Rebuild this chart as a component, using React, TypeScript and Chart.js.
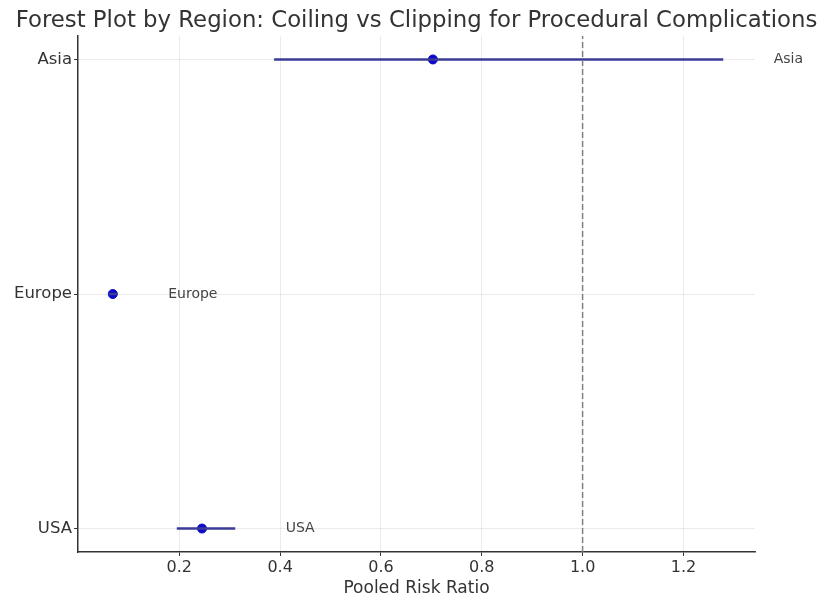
import React, { useEffect, useRef } from "react";
import { Chart, registerables } from "chart.js";

Chart.register(...registerables);

// Pooled risk ratios with 95% confidence intervals, by region
const regions = ["USA", "Europe", "Asia"];
const riskRatio = [0.245, 0.068, 0.703];
const ciLower = [0.195, 0.06, 0.388];
const ciUpper = [0.311, 0.078, 1.279];
const xTicks = [0.2, 0.4, 0.6, 0.8, 1.0, 1.2];
const referenceLine = 1.0;
const labelOffset = 0.1;

const TITLE = "Forest Plot by Region: Coiling vs Clipping for Procedural Complications";
const X_LABEL = "Pooled Risk Ratio";
const FONT = "'DejaVu Sans', sans-serif";

const overlayText = {
  id: "overlayText",
  afterDraw(chart: any) {
    const { ctx, chartArea, scales } = chart;
    const xs = scales.x;
    const ys = scales.y;
    ctx.save();
    // Region names next to each interval
    ctx.fillStyle = "#444";
    ctx.font = `14px ${FONT}`;
    ctx.textAlign = "left";
    ctx.textBaseline = "middle";
    regions.forEach((r, i) => {
      ctx.fillText(r, xs.getPixelForValue(ciUpper[i] + labelOffset), ys.getPixelForValue(i));
    });
    // Title
    const cx = (chartArea.left + chartArea.right) / 2;
    ctx.fillStyle = "#333";
    ctx.font = `22.8px ${FONT}`;
    ctx.textAlign = "center";
    ctx.textBaseline = "alphabetic";
    ctx.fillText(TITLE, cx, 27);
    // Axis title
    ctx.font = `17px ${FONT}`;
    ctx.fillStyle = "#333";
    ctx.fillText(X_LABEL, cx, 593);
    ctx.restore();
  },
};

export default function App() {
  const ref = useRef<HTMLCanvasElement | null>(null);

  useEffect(() => {
    if (!ref.current) return;
    const ciData: any[] = [];
    regions.forEach((_, i) => {
      ciData.push({ x: ciLower[i], y: i });
      ciData.push({ x: ciUpper[i], y: i });
      ciData.push({ x: NaN, y: NaN });
    });
    const chart = new Chart(ref.current, {
      type: "scatter",
      data: {
        datasets: [
          {
            type: "line",
            label: "reference",
            data: [
              { x: referenceLine, y: -0.1 },
              { x: referenceLine, y: 2.1 },
            ],
            borderColor: "#808080",
            borderWidth: 1.5,
            borderDash: [6, 3],
            pointRadius: 0,
            fill: false,
          } as any,
          {
            type: "line",
            label: "95% CI",
            data: ciData,
            borderColor: "#3b3b98",
            borderWidth: 2.5,
            pointRadius: 0,
            spanGaps: false,
            fill: false,
          } as any,
          {
            label: "Pooled RR",
            data: riskRatio.map((v, i) => ({ x: v, y: i })),
            backgroundColor: "#0a0ac8",
            borderColor: "#0a0ac8",
            pointRadius: 4.5,
          },
        ],
      },
      options: {
        animation: false,
        responsive: false,
        maintainAspectRatio: false,
        layout: { padding: { left: 0, top: 36, right: 67, bottom: 0 } },
        plugins: { legend: { display: false }, tooltip: { enabled: false }, title: { display: false } },
        scales: {
          x: {
            type: "linear",
            min: -0.001,
            max: 1.342,
            afterBuildTicks: (s: any) => {
              s.ticks = xTicks.map((v) => ({ value: v }));
            },
            afterFit: (s: any) => {
              s.height = 47;
            },
            ticks: {
              callback: (v: any) => Number(v).toFixed(1),
              color: "#333",
              font: { family: FONT, size: 16 },
              padding: 2,
            },
            grid: {
              color: "rgba(0,0,0,0.1)",
              lineWidth: 0.8,
              tickColor: "#333",
              tickLength: 4,
              tickWidth: 1,
            },
            border: { color: "#333", width: 1.5 },
          },
          y: {
            type: "linear",
            min: -0.1,
            max: 2.1,
            afterBuildTicks: (s: any) => {
              s.ticks = regions.map((_, i) => ({ value: i }));
            },
            afterFit: (s: any) => {
              s.width = 78;
            },
            ticks: {
              callback: (v: any) => regions[Number(v)] ?? "",
              color: "#333",
              font: { family: FONT, size: 16.5 },
              padding: 2,
            },
            grid: {
              color: "rgba(0,0,0,0.1)",
              lineWidth: 0.8,
              tickColor: "#333",
              tickLength: 4,
              tickWidth: 1,
            },
            border: { color: "#333", width: 1.5 },
          },
        },
      },
      plugins: [overlayText],
    });
    return () => chart.destroy();
  }, []);

  return (
    <div style={{ position: "fixed", left: 0, top: 0, width: 822, height: 599, background: "#fff" }}>
      <canvas ref={ref} width={822} height={599} style={{ width: 822, height: 599 }} />
    </div>
  );
}
